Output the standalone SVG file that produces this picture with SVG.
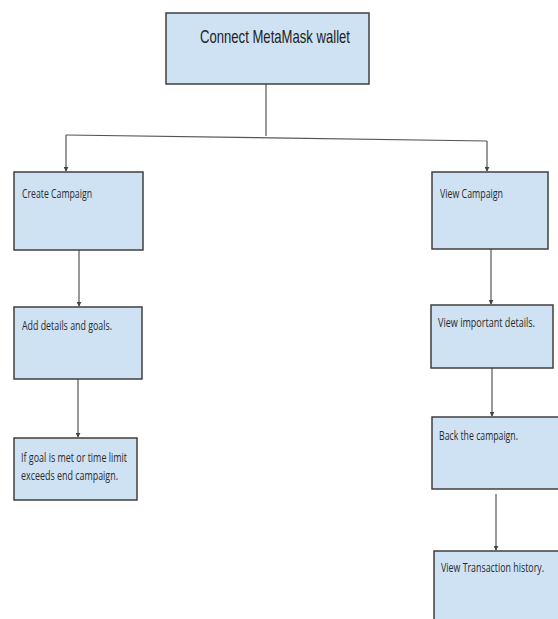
<svg xmlns="http://www.w3.org/2000/svg" width="558" height="619" viewBox="0 0 558 619">
<style>
.box{fill:#cfe2f3;stroke:#3f3f3f;stroke-width:1.5}
.t{font-family:"Open Sans","Liberation Sans",sans-serif;font-size:13px;fill:#2b2b2b}
.tt{font-family:"Liberation Sans",Arial,sans-serif;font-size:19px;fill:#222}
.c{fill:none;stroke:#555;stroke-width:1.2}
</style>
<defs>
<marker id="ah" viewBox="0 0 6 6" refX="5" refY="3" markerWidth="5" markerHeight="5" orient="auto" markerUnits="userSpaceOnUse">
<path d="M0,0 L6,3 L0,6 z" fill="#444"/>
</marker>
</defs>
<rect width="558" height="619" fill="#fff"/>
<g id="connectors">
<path class="c" d="M266,84 V136"/>
<path class="c" d="M66,135 L487,141"/>
<path class="c" d="M66,135 V171" marker-end="url(#ah)"/>
<path class="c" d="M487,141 V171" marker-end="url(#ah)"/>
<path class="c" d="M79,250 V306" marker-end="url(#ah)"/>
<path class="c" d="M78,379 V437" marker-end="url(#ah)"/>
<path class="c" d="M491,249 V304" marker-end="url(#ah)"/>
<path class="c" d="M492,368 V416" marker-end="url(#ah)"/>
<path class="c" d="M496,494 V550" marker-end="url(#ah)"/>
</g>
<g id="n-connect">
<rect class="box" x="166" y="13" width="203" height="71"/>
<text class="tt" x="200" y="43" textLength="150" lengthAdjust="spacingAndGlyphs">Connect MetaMask wallet</text>
</g>
<g id="n-create">
<rect class="box" x="14" y="172" width="129" height="78"/>
<text class="t" x="22" y="198" textLength="70" lengthAdjust="spacingAndGlyphs">Create Campaign</text>
</g>
<g id="n-add">
<rect class="box" x="14" y="307" width="128" height="72"/>
<text class="t" x="22" y="330" textLength="90" lengthAdjust="spacingAndGlyphs">Add details and goals.</text>
</g>
<g id="n-goal">
<rect class="box" x="14" y="438" width="123" height="62"/>
<text class="t" x="21" y="462" textLength="106" lengthAdjust="spacingAndGlyphs">If goal is met or time limit</text>
<text class="t" x="21" y="480" textLength="97" lengthAdjust="spacingAndGlyphs">exceeds end campaign.</text>
</g>
<g id="n-view">
<rect class="box" x="432" y="172" width="116" height="77"/>
<text class="t" x="440" y="198" textLength="63" lengthAdjust="spacingAndGlyphs">View Campaign</text>
</g>
<g id="n-important">
<rect class="box" x="431" y="305" width="122" height="63"/>
<text class="t" x="438" y="327" textLength="97" lengthAdjust="spacingAndGlyphs">View important details.</text>
</g>
<g id="n-back">
<rect class="box" x="432" y="417" width="130" height="72"/>
<text class="t" x="439" y="440" textLength="79" lengthAdjust="spacingAndGlyphs">Back the campaign.</text>
</g>
<g id="n-history">
<rect class="box" x="434" y="551" width="130" height="72"/>
<text class="t" x="441" y="572" textLength="103" lengthAdjust="spacingAndGlyphs">View Transaction history.</text>
</g>
</svg>
